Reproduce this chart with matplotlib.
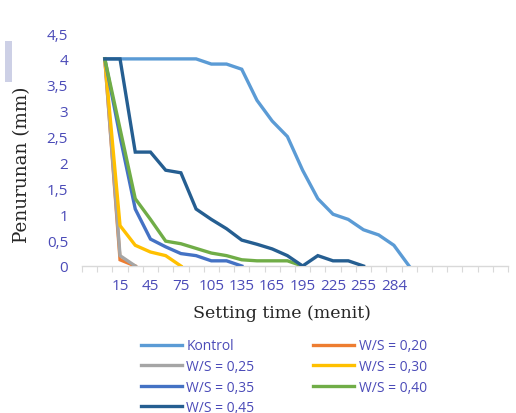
import matplotlib.pyplot as plt
from matplotlib.patches import Rectangle
from matplotlib.ticker import FixedLocator, NullFormatter, FixedFormatter

# Category axis: one slot per 15-minute reading (first slot left empty)
categories = ["", "0", "15", "30", "45", "60", "75", "90", "105", "120",
              "135", "150", "165", "180", "195", "210", "225", "240", "255",
              "270", "284", "", "", "", "", "", "", ""]

# Penetration depth (mm), starting at the "0" slot
kontrol = [4, 4, 4, 4, 4, 4, 4, 3.9, 3.9, 3.8, 3.2, 2.8, 2.5, 1.85, 1.3,
           1.0, 0.9, 0.7, 0.6, 0.4, 0]
ws_020 = [4, 0.12, 0]
ws_025 = [4, 0.2, 0]
ws_030 = [4, 0.78, 0.4, 0.27, 0.2, 0]
ws_035 = [4, 2.5, 1.1, 0.52, 0.37, 0.24, 0.2, 0.1, 0.1, 0]
ws_040 = [4, 2.65, 1.3, 0.9, 0.48, 0.43, 0.34, 0.25, 0.2, 0.12, 0.1, 0.1,
          0.1, 0]
ws_045 = [4, 4, 2.2, 2.2, 1.85, 1.8, 1.1, 0.9, 0.72, 0.5, 0.42, 0.33, 0.2,
          0, 0.2, 0.1, 0.1, 0]

series = [
    ("Kontrol", kontrol, "#5B9BD5"),
    ("W/S = 0,20", ws_020, "#ED7D31"),
    ("W/S = 0,25", ws_025, "#A5A5A5"),
    ("W/S = 0,30", ws_030, "#FFC000"),
    ("W/S = 0,35", ws_035, "#4472C4"),
    ("W/S = 0,40", ws_040, "#70AD47"),
    ("W/S = 0,45", ws_045, "#255E91"),
]

y_ticks = [0, 0.5, 1, 1.5, 2, 2.5, 3, 3.5, 4, 4.5]
y_labels = ["0", "0,5", "1", "1,5", "2", "2,5", "3", "3,5", "4", "4,5"]

label_color = "#4B4BB8"
tick_font = "Open Sans"

fig = plt.figure(figsize=(5.16, 4.14), dpi=100)
ax = fig.add_axes([82 / 516, 147 / 414, 426 / 516, 233 / 414])

start = 1
handles = []
for name, vals, color in series:
    xs = [start + i + 0.5 for i in range(len(vals))]
    h, = ax.plot(xs, vals, color=color, lw=2.4, label=name,
                 solid_joinstyle="miter", zorder=3)
    handles.append(h)

ax.set_xlim(0, len(categories))
ax.set_ylim(0, 4.5)

# boundary tick marks, labels on every other category centre
ax.xaxis.set_major_locator(FixedLocator(range(len(categories) + 1)))
ax.xaxis.set_major_formatter(NullFormatter())
label_pos = [i + 0.5 for i in range(0, len(categories), 2)]
ax.xaxis.set_minor_locator(FixedLocator(label_pos))
ax.xaxis.set_minor_formatter(
    FixedFormatter([categories[i] for i in range(0, len(categories), 2)]))
ax.tick_params(axis="x", which="major", length=4, width=0.8,
               color="#D9D9D9", direction="out")
ax.tick_params(axis="x", which="minor", length=0, pad=9,
               labelsize=11, labelcolor=label_color)

ax.set_yticks(y_ticks)
ax.set_yticklabels(y_labels)
ax.tick_params(axis="y", length=0, pad=10, labelsize=11,
               labelcolor=label_color)
for lab in ax.get_xticklabels(minor=True) + ax.get_yticklabels():
    lab.set_fontfamily(tick_font)

for s in ["top", "right", "left"]:
    ax.spines[s].set_visible(False)
ax.spines["bottom"].set_color("#D9D9D9")
ax.spines["bottom"].set_linewidth(1.0)

fig.text(282 / 516, 1 - 313 / 414, "Setting time (menit)",
         family="DejaVu Serif", fontsize=12.5, color="#262626",
         ha="center", va="center")
fig.text(22 / 516, 1 - 165 / 414, "Penurunan (mm)",
         family="DejaVu Serif", fontsize=13.2, color="#262626",
         ha="center", va="center", rotation=90)

# small shaded marker at the top-left corner
fig.patches.append(Rectangle((5 / 516, 1 - 83 / 414), 7 / 516, 41 / 414,
                             transform=fig.transFigure,
                             facecolor="#CDD0E6", edgecolor="none"))

order = [0, 2, 4, 6, 1, 3, 5]
leg = fig.legend([handles[i] for i in order],
                 [series[i][0] for i in order],
                 ncol=2, loc="upper left",
                 bbox_to_anchor=(128 / 516, 1 - 327 / 414),
                 frameon=False, handlelength=3.0, handletextpad=0.3,
                 columnspacing=4.2, labelspacing=0.4,
                 prop={"family": tick_font, "size": 10})
for t in leg.get_texts():
    t.set_color(label_color)

fig.savefig("out.png", dpi=100)
